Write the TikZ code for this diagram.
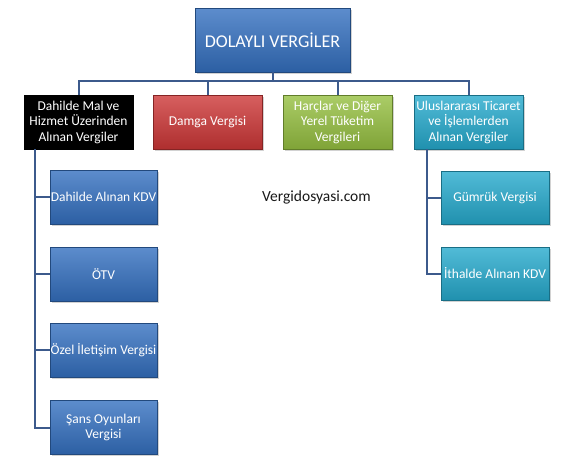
\documentclass[tikz,border=0pt]{standalone}
\usepackage{fontspec}
\setmainfont{Carlito}
\usetikzlibrary{shadows,calc}
\definecolor{cblue}{RGB}{52,112,192}
\definecolor{cred}{RGB}{205,55,55}
\definecolor{cgreen}{RGB}{150,192,65}
\definecolor{ccyan}{RGB}{38,170,205}
\definecolor{cline}{RGB}{60,90,140}
\tikzset{
  box/.style={draw=#1!65!black, line width=0.6pt, top color=#1!80!white, middle color=#1, bottom color=#1!85!black,
    text=white, align=center, inner sep=0pt, font=\fontsize{13.5}{15.5}\selectfont,
    drop shadow={shadow xshift=1.5pt, shadow yshift=-1.5pt, opacity=0.35}},
  conn/.style={draw=cline, line width=2pt},
}
\begin{document}
\begin{tikzpicture}[x=1pt,y=-1pt]
\useasboundingbox[fill=white] (0,0) rectangle (579,467);
\node[box=cblue, minimum width=155, minimum height=64, font=\fontsize{18}{21}\selectfont] (top) at (272.5,40) {DOLAYLI VERGİLER};
\node[draw=black, fill=black, text=white, align=center, inner sep=0pt, minimum width=109, minimum height=54,
  font=\fontsize{13.5}{15.5}\selectfont] (b1) at (78.5,122) {Dahilde Mal ve\\Hizmet Üzerinden\\Alınan Vergiler};
\node[box=cred, minimum width=109, minimum height=54] (b2) at (207.5,122) {Damga Vergisi};
\node[box=cgreen, minimum width=109, minimum height=54] (b3) at (337.5,122) {Harçlar ve Diğer\\Yerel Tüketim\\Vergileri};
\node[box=ccyan, minimum width=109, minimum height=54] (b4) at (468.5,122) {Uluslararası Ticaret\\ve İşlemlerden\\Alınan Vergiler};
\node[box=cblue, minimum width=107, minimum height=54] (c1) at (103.5,197) {Dahilde Alınan KDV};
\node[box=cblue, minimum width=107, minimum height=54] (c2) at (103.5,274) {ÖTV};
\node[box=cblue, minimum width=107, minimum height=54] (c3) at (103.5,350) {Özel İletişim Vergisi};
\node[box=cblue, minimum width=107, minimum height=54] (c4) at (103.5,427.5) {Şans Oyunları\\Vergisi};
\node[box=ccyan, minimum width=108, minimum height=53] (d1) at (495,197.5) {Gümrük Vergisi};
\node[box=ccyan, minimum width=108, minimum height=53] (d2) at (495,273.5) {İthalde Alınan KDV};
\node[font=\fontsize{15.5}{18}\selectfont, text=black!90] (web) at (316.5,197) {Vergidosyasi.com};
\coordinate (bus) at ($(top.south)+(0,9)$);
\draw[conn] (top.south) -- (bus);
\draw[conn] (bus) -| (b1.north);
\draw[conn] (bus) -| (b2.north);
\draw[conn] (bus) -| (b3.north);
\draw[conn] (bus) -| (b4.north);
\coordinate (lt) at ($(b1.south west)+(11,0)$);
\draw[conn] (lt) |- (c1.west);
\draw[conn] (lt) |- (c2.west);
\draw[conn] (lt) |- (c3.west);
\draw[conn] (lt) |- (c4.west);
\coordinate (rt) at ($(b4.south west)+(13,0)$);
\draw[conn] (rt) |- (d1.west);
\draw[conn] (rt) |- (d2.west);
\end{tikzpicture}
\end{document}
